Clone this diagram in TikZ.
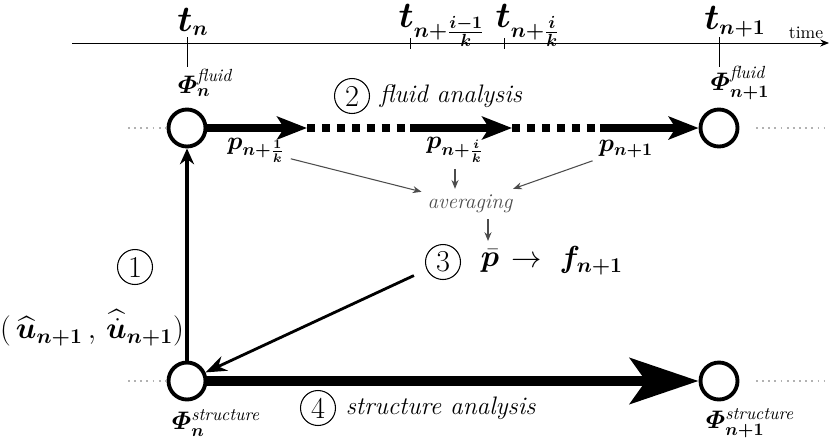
\documentclass[tikz,border=0pt]{standalone}
\usepackage{amsmath}
\usepackage{bm}
\usetikzlibrary{arrows.meta,positioning}

\tikzset{
  state/.style={circle, draw, line width=2.2pt, minimum size=0.74cm, inner sep=0pt},
  flow/.style={line width=4.5pt, -{Stealth[length=17pt,width=13pt,inset=4pt]}},
  flowgap/.style={line width=4.5pt, dash pattern=on 4.5pt off 4pt},
  loose/.style={gray!60, line width=0.6pt, dash pattern=on 1pt off 2.5pt},
  avg/.style={black!70, line width=0.6pt, -{Stealth[length=5pt,width=4pt]}},
  cnum/.style={circle, draw, line width=0.6pt, minimum size=0.7cm, inner sep=0pt, font=\LARGE},
  timetick/.style={line width=0.5pt},
  timelabel/.style={font=\LARGE, inner sep=0.5pt}
}
\newcommand{\supit}[1]{\text{\normalsize\itshape #1}}
\newcommand{\bigt}{\text{\huge$\bm t$}}

\begin{document}
\begin{tikzpicture}[x=0.02cm, y=-0.02cm]
    \useasboundingbox (0,0) rectangle (830,444);
    % time axis
    \coordinate (ax0) at (72,43);
    \coordinate (ax1) at (829,43);
    \draw[line width=0.5pt, -{Stealth[length=5pt,width=4pt]}] (ax0) -- (ax1);
    \node (time) at (806,33) {time};
    \draw[timetick] (187,37) -- (187,67);
    \draw[timetick] (410,38) -- (410,49);
    \draw[timetick] (504,38) -- (504,49);
    \draw[timetick] (719,37) -- (719,67);
    \node[timelabel] (tn) at (193,22) {$\bigt_{\bm n}$};
    \node[timelabel] (tim) at (442,25) {$\bigt_{\bm{n+\frac{i-1}{k}}}$};
    \node[timelabel] (ti) at (528,25) {$\bigt_{\bm{n+\frac{i}{k}}}$};
    \node[timelabel] (tn1) at (735,22) {$\bigt_{\bm{n+1}}$};
    % states
    \node[state] (f0) at (187,128) {};
    \node[state] (f1) at (719,128) {};
    \node[state] (s0) at (187,381) {};
    \node[state] (s1) at (719,381) {};
    \node[font=\Large] (phf0) at (205,83) {$\bm\varPhi_{\bm n}^{\supit{fluid}}$};
    \node[font=\Large] (phf1) at (740,83) {$\bm\varPhi_{\bm{n+1}}^{\supit{fluid}}$};
    \node[font=\Large] (phs0) at (216,423) {$\bm\varPhi_{\bm n}^{\supit{structure}}$};
    \node[font=\Large] (phs1) at (750,423) {$\bm\varPhi_{\bm{n+1}}^{\supit{structure}}$};
    \draw[loose] (128,128) -- (166,128);
    \draw[loose] (128,381) -- (166,381);
    \draw[loose] (756,128) -- (828,128);
    \draw[loose] (756,381) -- (828,381);
    % fluid analysis
    \coordinate (a1) at (307,128);
    \coordinate (a2) at (410,128);
    \coordinate (a3) at (512,128);
    \coordinate (a4) at (600,128);
    \draw[flow] (f0) -- (a1);
    \draw[flowgap] (a1) -- (a2);
    \draw[flow] (a2) -- (a3);
    \draw[flowgap] (a3) -- (a4);
    \draw[flow] (a4) -- (f1);
    \node[cnum] (c2) at (352,96) {2};
    \node[right=2pt of c2, font=\Large\itshape] (fa) {fluid analysis};
    \node[font=\Large] (p1) at (256,150) {$\bm p_{\bm{n+\frac{1}{k}}}$};
    \node[font=\Large] (p2) at (455,150) {$\bm p_{\bm{n+\frac{i}{k}}}$};
    \node[font=\Large] (p3) at (626,149) {$\bm p_{\bm{n+1}}$};
    % averaging
    \node[font=\large\itshape, text=black!70] (avg) at (470,204) {averaging};
    \draw[avg] (p1) -- (avg);
    \draw[avg] (p2.south) -- (p2.south |- avg.north);
    \draw[avg] (p3) -- (avg);
    \node[cnum] (c3) at (443,262) {3};
    \node[font=\LARGE] (pb) at (490,261) {$\bar{\bm p}$};
    \node[right=0pt of pb, font=\LARGE] (fn) {$\to\ \bm f_{\bm{n+1}}$};
    \coordinate (avgb) at (488,241);
    \draw[avg] (avg.south -| avgb) -- (avgb);
    % coupling
    \draw[line width=1.6pt, shorten <=8pt, -{Stealth[length=12pt,width=9pt,inset=4pt]}] (c3) -- (s0);
    \draw[line width=2.2pt, -{Stealth[length=9pt,width=8pt]}] (s0) -- (f0);
    \node[cnum] (c1) at (135,267) {1};
    \node[font=\LARGE] (uhat) at (92,328) {$(\,\widehat{\bm u}_{\bm{n+1}}\,,\,\widehat{\dot{\bm u}}_{\bm{n+1}})$};
    % structure analysis
    \draw[line width=5.7pt, -{Stealth[length=39pt,width=26pt,inset=9pt]}] (s0) -- (s1);
    \node[cnum] (c4) at (318,408) {4};
    \node[right=2pt of c4, font=\Large\itshape] (sa) {structure analysis};
\end{tikzpicture}
\end{document}
